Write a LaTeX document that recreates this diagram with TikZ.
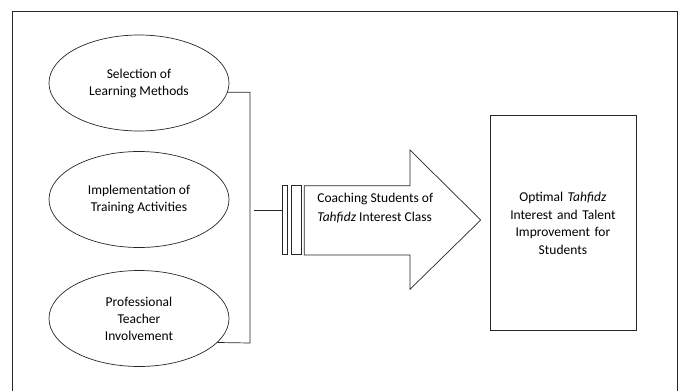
\documentclass[tikz,border=0pt]{standalone}
\usepackage{fontspec}
\setmainfont{Carlito}
\usetikzlibrary{shapes.geometric}

\tikzset{
  factor/.style={draw, ellipse, minimum width=180pt, minimum height=96pt,
    inner sep=0pt, align=center, font=\fontsize{13.5}{17}\selectfont},
  bar/.style={draw, rectangle, minimum height=69pt, inner sep=0pt},
  result/.style={draw, rectangle, minimum width=146pt, minimum height=215pt,
    inner sep=0pt, text width=136pt, align=center, font=\fontsize{13.5}{17.8}\selectfont}
}

\begin{document}
\begin{tikzpicture}[x=1pt, y=-1pt, line width=0.7pt, draw=black!85]

\useasboundingbox (0,0) rectangle (681,391);

% Cadre
\draw (12,391) -- (12,11) -- (677,11) -- (677,391);

% Les trois facteurs
\node[factor] (sel) at (139,83) {Selection of\\Learning Methods};
\node[factor] (impl) at (139,199.5) {Implementation of\\Training Activities};
\node[factor] (prof) at (139,318.5) {Professional\\Teacher\\Involvement};

% Accolade vers la flèche
\coordinate (joint) at (254,210);
\draw (sel.-6) -| (250,343) -- (prof.-17);

% Barres et flèche
\node[bar, minimum width=5.4pt] (b1) at (285,220.3) {};
\node[bar, minimum width=9.3pt] (b2) at (296.3,220.3) {};
\draw (joint) -- (b1.west |- joint);

\draw (304.3,185.7) -- (410,185.7) -- (410,150) -- (480.7,220)
  -- (410,289.3) -- (410,255) -- (304.3,255) -- cycle;
\node[anchor=west, align=left, inner sep=0pt, font=\fontsize{13.5}{19.4}\selectfont] (coach) at (317,208)
  {Coaching Students of\\\textit{Tahfidz} Interest Class};

% Résultat
\node[result] (opt) at (562.9,223.3)
  {Optimal \textit{Tahfidz}\\Interest and Talent\\Improvement for\\Students};

\end{tikzpicture}
\end{document}
